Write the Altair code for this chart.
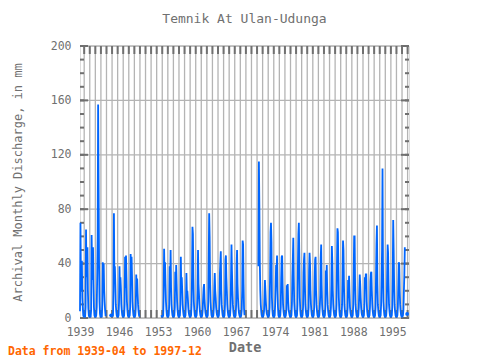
import altair as alt
import pandas as pd

TITLE = "Temnik At Ulan-Udunga"
Y_TITLE = "Archival Monthly Discharge, in mm"
X_TITLE = "Date"
NOTE = "Data from 1939-04 to 1997-12"

# monthly discharge (mm), Jan..Dec, one list per year; None = missing
start_1930s = 1939
d1930s = [
    [None, None, None, 5, 70, 25, 20, 42, 15, 8, 2, 1],
]
start_1940s = 1940
d1940s = [
    [1, 1, 1, 8, 65, 30, 45, 52, 20, 7, 2, 1],
    [1, 1, 1, 6, 61, 35, 28, 52, 25, 8, 2, 1],
    [1, 1, 2, 8, 30, 60, 157, 98, 40, 12, 3, 1],
    [1, 1, 1, 10, 41, 25, 40, 20, 12, 6, 2, 2],
    [2, None, None, None, None, None, None, None, None, None, 2, None],
    [None, 1, 2, 20, 77, 30, 38, 25, 10, 5, 2, 1],
    [1, 1, 2, 12, 38, 20, 30, 22, 10, 5, 2, 1],
    [1, 1, 2, 10, 45, 22, 46, 30, 12, 6, 2, 1],
    [1, 1, 2, 8, 47, 25, 45, 30, 12, 6, 2, 1],
    [1, 1, 2, 8, 32, 20, 29, 18, 10, 5, 2, 1],
]
start_1950s = 1950
d1950s = [
    [None] * 12,
    [None] * 12,
    [None] * 12,
    [None, None, None, None, None, None, None, None, None, None, 2, 1],
    [1, 1, 2, 16, 51, 30, 41, 25, 12, 6, 2, 1],
    [1, 1, 2, 10, 38, 25, 50, 22, 10, 5, 2, 1],
    [1, 1, 2, 8, 34, 20, 39, 25, 12, 6, 2, 1],
    [1, 1, 2, 10, 45, 20, 30, 20, 10, 5, 2, 1],
    [1, 1, 2, 12, 33, 18, 20, 15, 8, 4, 2, 1],
    [1, 1, 2, 10, 30, 67, 62, 30, 12, 6, 2, 1],
]
start_1960s = 1960
d1960s = [
    [1, 1, 2, 8, 20, 50, 25, 18, 10, 5, 2, 1],
    [1, 1, 2, 6, 15, 22, 25, 14, 8, 4, 2, 1],
    [1, 1, 2, 12, 45, 77, 60, 25, 12, 6, 2, 1],
    [1, 1, 2, 8, 23, 33, 20, 15, 8, 4, 2, 1],
    [1, 1, 2, 10, 32, 41, 49, 20, 10, 5, 2, 1],
    [1, 1, 2, 10, 43, 46, 30, 20, 10, 5, 2, 1],
    [1, 1, 2, 8, 30, 54, 35, 20, 10, 5, 2, 1],
    [1, 1, 2, 10, 38, 50, 25, 15, 8, 4, 2, 1],
    [1, 1, 2, 6, 20, 57, 54, 25, 7, 2, None, None],
    [None] * 12,
]
start_1970s = 1970
d1970s = [
    [None] * 12,
    [None, None, None, 38, 115, 83, 40, 20, 10, 5, 2, 1],
    [1, 1, 2, 5, 15, 28, 20, 12, 6, 3, 2, 1],
    [1, 1, 2, 8, 30, 63, 70, 56, 15, 6, 2, 1],
    [1, 1, 2, 10, 24, 39, 33, 46, 20, 8, 2, 1],
    [1, 1, 2, 8, 30, 45, 46, 25, 10, 5, 2, 1],
    [1, 1, 2, 6, 24, 18, 25, 12, 6, 4, 2, 1],
    [1, 1, 2, 10, 30, 43, 59, 30, 12, 6, 2, 1],
    [1, 1, 2, 10, 40, 62, 70, 45, 15, 6, 2, 1],
    [1, 1, 2, 8, 33, 43, 48, 25, 10, 5, 2, 1],
]
start_1980s = 1980
d1980s = [
    [1, 1, 2, 8, 35, 48, 40, 20, 10, 5, 2, 1],
    [1, 1, 2, 8, 30, 43, 45, 20, 10, 5, 2, 1],
    [1, 1, 2, 8, 17, 44, 54, 25, 10, 5, 2, 1],
    [1, 1, 2, 8, 35, 25, 39, 20, 10, 5, 2, 1],
    [1, 1, 2, 8, 25, 53, 41, 20, 10, 5, 2, 1],
    [1, 1, 2, 10, 40, 66, 63, 38, 15, 6, 2, 1],
    [1, 1, 2, 10, 30, 57, 50, 25, 10, 5, 2, 1],
    [1, 1, 2, 8, 28, 15, 31, 18, 8, 4, 2, 1],
    [1, 1, 2, 10, 35, 60, 60, 25, 10, 5, 2, 1],
    [1, 1, 2, 8, 20, 32, 25, 15, 8, 4, 2, 1],
]
start_1990s = 1990
d1990s = [
    [1, 1, 2, 10, 30, 25, 32, 32, 12, 5, 2, 1],
    [1, 1, 2, 8, 27, 33, 34, 20, 10, 5, 2, 1],
    [1, 1, 2, 8, 30, 54, 68, 25, 10, 5, 2, 1],
    [1, 1, 2, 10, 28, 50, 110, 38, 12, 6, 2, 1],
    [1, 1, 2, 8, 33, 54, 48, 25, 10, 5, 2, 1],
    [1, 1, 2, 8, 32, 72, 50, 25, 10, 5, 2, 1],
    [1, 1, 2, 8, 25, 41, 40, 20, 10, 5, 2, 1],
    [1, 1, 2, 6, 20, 32, 52, None, None, None, None, 3],
]

x_label_years = [1939, 1946, 1953, 1960, 1967, 1974, 1981, 1988, 1995]
y_ticks = [0, 40, 80, 120, 160, 200]
y_minor = list(range(0, 201, 10))
grid_years = list(range(1940, 1999))

X_DOMAIN = [1939.25, 1998.25]
Y_DOMAIN = [0, 200]
W, H = 329, 272

# build table with path segments split at missing months
rows = []
seg = 0
prev_missing = True
for start, block in [(start_1930s, d1930s), (start_1940s, d1940s), (start_1950s, d1950s),
                     (start_1960s, d1960s), (start_1970s, d1970s), (start_1980s, d1980s),
                     (start_1990s, d1990s)]:
    for i, vals in enumerate(block):
        yr = start + i
        for m, v in enumerate(vals):
            if v is None:
                prev_missing = True
                continue
            if prev_missing:
                seg += 1
            prev_missing = False
            rows.append({"t": yr + m / 12.0, "v": v, "seg": seg})
df = pd.DataFrame(rows)
counts = df.groupby("seg")["v"].transform("count")
iso = df[counts == 1]

xs = alt.Scale(domain=X_DOMAIN, nice=False, zero=False)
ys = alt.Scale(domain=Y_DOMAIN, nice=False, zero=False)
FONT = "DejaVu Sans Mono"
GRAY = "#707070"

label_pos = [y + 0.25 for y in x_label_years]

xaxis = alt.Axis(values=label_pos, labelExpr="floor(datum.value)", grid=False, ticks=False,
                 domain=False, labelFont=FONT, labelFontSize=11.5, labelColor=GRAY,
                 labelOverlap=False, labelFlush=False,
                 labelPadding=8, title=X_TITLE, titleFont=FONT, titleFontSize=13.5,
                 titleFontWeight="bold", titleColor=GRAY, titlePadding=3)
yaxis = alt.Axis(values=y_ticks, grid=False, ticks=False, domain=False, labelFont=FONT,
                 labelFontSize=11.5, labelColor=GRAY, labelPadding=9, labelOverlap=False,
                 labelFlush=False, title=Y_TITLE,
                 titleFont=FONT, titleFontSize=12, titleFontWeight="normal",
                 titleColor=GRAY, titlePadding=26)

vgrid = alt.Chart(pd.DataFrame({"t": grid_years})).mark_rule(
    color="#b4b4b4", strokeWidth=1.3).encode(x=alt.X("t:Q", scale=xs, axis=xaxis))
hgrid = alt.Chart(pd.DataFrame({"v": y_ticks})).mark_rule(
    color="#b4b4b4", strokeWidth=1.3).encode(y=alt.Y("v:Q", scale=ys, axis=yaxis))

tick_df = pd.DataFrame({"t": grid_years})
top_ticks = alt.Chart(tick_df).mark_rule(color=GRAY, strokeWidth=2).encode(
    x=alt.X("t:Q", scale=xs), y=alt.value(0), y2=alt.value(8))
bot_ticks = alt.Chart(tick_df).mark_rule(color=GRAY, strokeWidth=2).encode(
    x=alt.X("t:Q", scale=xs), y=alt.value(H - 8), y2=alt.value(H))

minor_df = pd.DataFrame({"v": y_minor})
major_df = pd.DataFrame({"v": y_ticks})
lmin = alt.Chart(minor_df).mark_rule(color=GRAY, strokeWidth=2).encode(
    y=alt.Y("v:Q", scale=ys), x=alt.value(0), x2=alt.value(4))
rmin = alt.Chart(minor_df).mark_rule(color=GRAY, strokeWidth=2).encode(
    y=alt.Y("v:Q", scale=ys), x=alt.value(W - 4), x2=alt.value(W))
lmaj = alt.Chart(major_df).mark_rule(color=GRAY, strokeWidth=2).encode(
    y=alt.Y("v:Q", scale=ys), x=alt.value(0), x2=alt.value(8))
rmaj = alt.Chart(major_df).mark_rule(color=GRAY, strokeWidth=2).encode(
    y=alt.Y("v:Q", scale=ys), x=alt.value(W - 8), x2=alt.value(W))

line = alt.Chart(df).mark_line(color="#0066ff", strokeWidth=1.8).encode(
    x=alt.X("t:Q", scale=xs), y=alt.Y("v:Q", scale=ys), detail="seg:N")
pts = alt.Chart(iso).mark_point(color="#0066ff", filled=True, size=14, opacity=1).encode(
    x=alt.X("t:Q", scale=xs), y=alt.Y("v:Q", scale=ys))

note = alt.Chart(pd.DataFrame({"s": [NOTE]})).mark_text(
    color="#ff6600", font=FONT, fontSize=11.5, fontWeight="bold", align="left",
    baseline="middle").encode(text="s:N", x=alt.value(-72), y=alt.value(H + 34))

chart = alt.layer(vgrid, hgrid, top_ticks, bot_ticks, lmin, rmin, lmaj, rmaj, line, pts, note).properties(
    width=W, height=H,
    title=alt.TitleParams(TITLE, font=FONT, fontSize=13, fontWeight="normal", color=GRAY, offset=14),
    autosize=alt.AutoSizeParams(type="none"),
    padding={"left": 72, "top": 38, "right": 63, "bottom": 40},
).configure_view(stroke=GRAY, strokeWidth=2).configure(background="white")

chart.save("out.html", embed_options={"renderer": "svg", "actions": False})
